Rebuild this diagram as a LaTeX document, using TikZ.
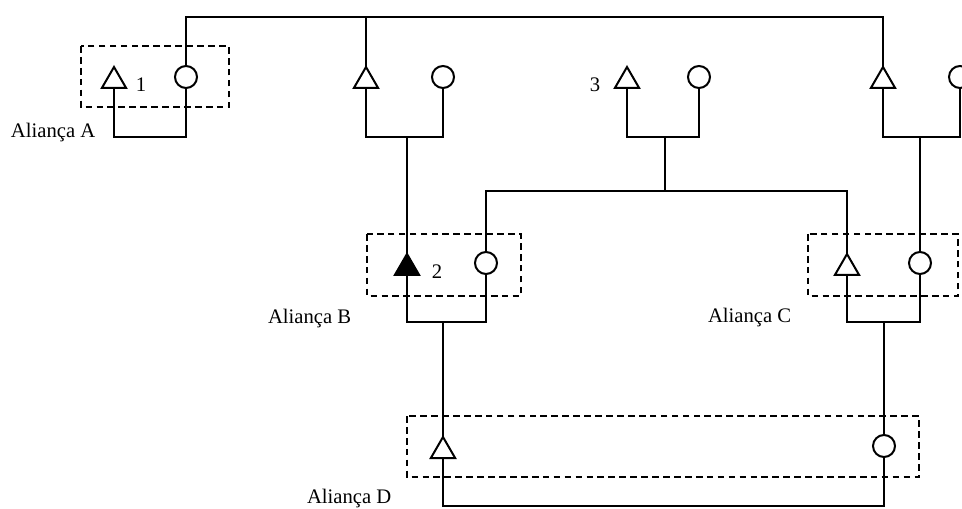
\documentclass[tikz,border=0pt]{standalone}
\usepackage{fontspec}
\setmainfont{Liberation Serif}
\usetikzlibrary{shapes.geometric}
\begin{document}
\begin{tikzpicture}[x=0.75pt,y=-0.75pt,
  line width=1.5pt,
  every node/.style={inner sep=0pt, outer sep=0pt},
  male/.style={draw, regular polygon, regular polygon sides=3, minimum size=21pt, fill=white},
  malefill/.style={male, fill=black},
  female/.style={draw, circle, minimum size=16.5pt, fill=white},
  dbox/.style={dashed, dash pattern=on 5pt off 3.2pt, line width=1.6pt},
  lbl/.style={font=\fontsize{15.5}{18}\selectfont, anchor=base}
]
\useasboundingbox (0,0) rectangle (962,509);
% reference coordinates
\coordinate (bus) at (0,17);
\coordinate (yA) at (0,137);
\coordinate (yB) at (0,191);
\coordinate (yC) at (0,322);
\coordinate (yD) at (0,506);
% dashed alliance boxes
\draw[dbox] (81,46) rectangle (229,107);
\draw[dbox] (367,234) rectangle (521,296);
\draw[dbox] (808,234) rectangle (958,296);
\draw[dbox] (407,416) rectangle (919,477);
% individuals
\node[male]   (t1) at (114,81) {};
\node[female] (c1) at (186,77) {};
\node[male]   (t2) at (366,81) {};
\node[female] (c2) at (443,77) {};
\node[male]   (t3) at (627,81) {};
\node[female] (c3) at (699,77) {};
\node[male]   (t4) at (883,81) {};
\node[female] (c4) at (960,77) {};
\node[malefill] (tB) at (407,268) {};
\node[female] (cB) at (486,263) {};
\node[male]   (tC) at (847,268) {};
\node[female] (cC) at (920,263) {};
\node[male]   (tD) at (443,451) {};
\node[female] (cD) at (884,446) {};
% child branch points
\coordinate (k3) at (665,137);
% labels
\node[lbl] (n1) at (141,92) {1};
\node[lbl] (n2) at (437,278) {2};
\node[lbl] (n3) at (595,92) {3};
\node[lbl, anchor=base west] (la) at (11,138) {Aliança A};
\node[lbl, anchor=base west] (lb) at (268,323) {Aliança B};
\node[lbl, anchor=base west] (lc) at (708,322) {Aliança C};
\node[lbl, anchor=base west] (ld) at (307,503) {Aliança D};
% top bus
\draw (c1.north) -- (c1.north |- bus) -| (t4.north);
\draw (t2.north) -- (t2.north |- bus);
% marriage bars, top row
\draw (t1.south) -- (t1.south |- yA) -| (c1.south);
\draw (t2.south) -- (t2.south |- yA) -| (c2.south);
\draw (t3.south) -- (t3.south |- yA) -| (c3.south);
\draw (t4.south) -- (t4.south |- yA) -| (c4.south);
% descent lines
\draw (tB.north) -- (tB.north |- yA);
\draw (k3) -- (k3 |- yB);
\draw (cB.north) -- (cB.north |- yB) -| (tC.north);
\draw (cC.north) -- (cC.north |- yA);
% middle row marriages
\draw (tB.south) -- (tB.south |- yC) -| (cB.south);
\draw (tC.south) -- (tC.south |- yC) -| (cC.south);
\draw (tD.north) -- (tD.north |- yC);
\draw (cD.north) -- (cD.north |- yC);
% bottom marriage
\draw (tD.south) -- (tD.south |- yD) -| (cD.south);
\end{tikzpicture}
\end{document}
